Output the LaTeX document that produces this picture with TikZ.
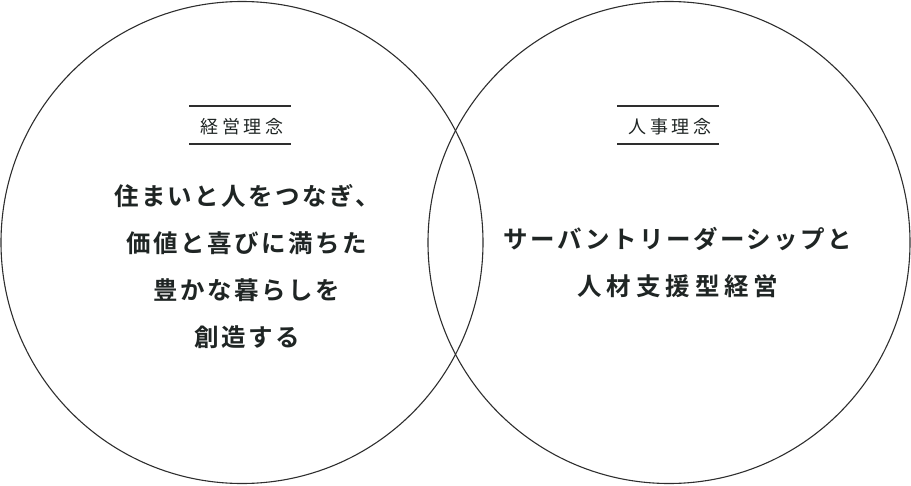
\documentclass[tikz,border=0pt]{standalone}
\usepackage{fontspec}
\newfontfamily\jp{Noto Sans CJK JP}
\newfontfamily\jplabel[LetterSpace=20]{Noto Sans CJK JP}
\newfontfamily\jpmain[LetterSpace=10]{Noto Sans CJK JP Bold}
\newfontfamily\jpwide[LetterSpace=20]{Noto Sans CJK JP Bold}
\definecolor{ink}{HTML}{1F2524}
\definecolor{ring}{HTML}{2E2E2E}
\tikzset{
  ringshape/.style={circle, draw=ring, line width=1.1pt, minimum size=482pt, inner sep=0pt},
  labeltext/.style={text=ink, inner sep=0pt, font={\jplabel\fontsize{18}{20}\selectfont}},
  rule/.style={draw=ring, line width=1.1pt},
  maintext/.style={text=ink, inner sep=0pt, align=center, font={\jpmain\fontsize{24.5}{47}\selectfont}}
}
\begin{document}
\begin{tikzpicture}[x=1pt,y=-1pt]
\useasboundingbox (0,0) rectangle (911,485);
\node[ringshape] (lc) at (242,242.5) {};
\node[ringshape] (rc) at (669,242.5) {};
% labels
\node[labeltext] (ll) at (242,127) {経営理念};
\coordinate (llt1) at (189,106); \coordinate (llt2) at (291,106);
\coordinate (llb1) at (189,144); \coordinate (llb2) at (291,144);
\draw[rule] (llt1) -- (llt2);
\draw[rule] (llb1) -- (llb2);
\node[labeltext] (rl) at (670,127) {人事理念};
\coordinate (rlt1) at (617,106); \coordinate (rlt2) at (719,106);
\coordinate (rlb1) at (617,144); \coordinate (rlb2) at (719,144);
\draw[rule] (rlt1) -- (rlt2);
\draw[rule] (rlb1) -- (rlb2);
% main texts
\node[maintext] (lt) at (247,267) {住まいと人をつなぎ、\\価値と喜びに満ちた\\豊かな暮らしを\\創造する};
\node[maintext] (rt) at (678,263) {サーバントリーダーシップと\\{\jpwide 人材支援型経営}};
\end{tikzpicture}
\end{document}
